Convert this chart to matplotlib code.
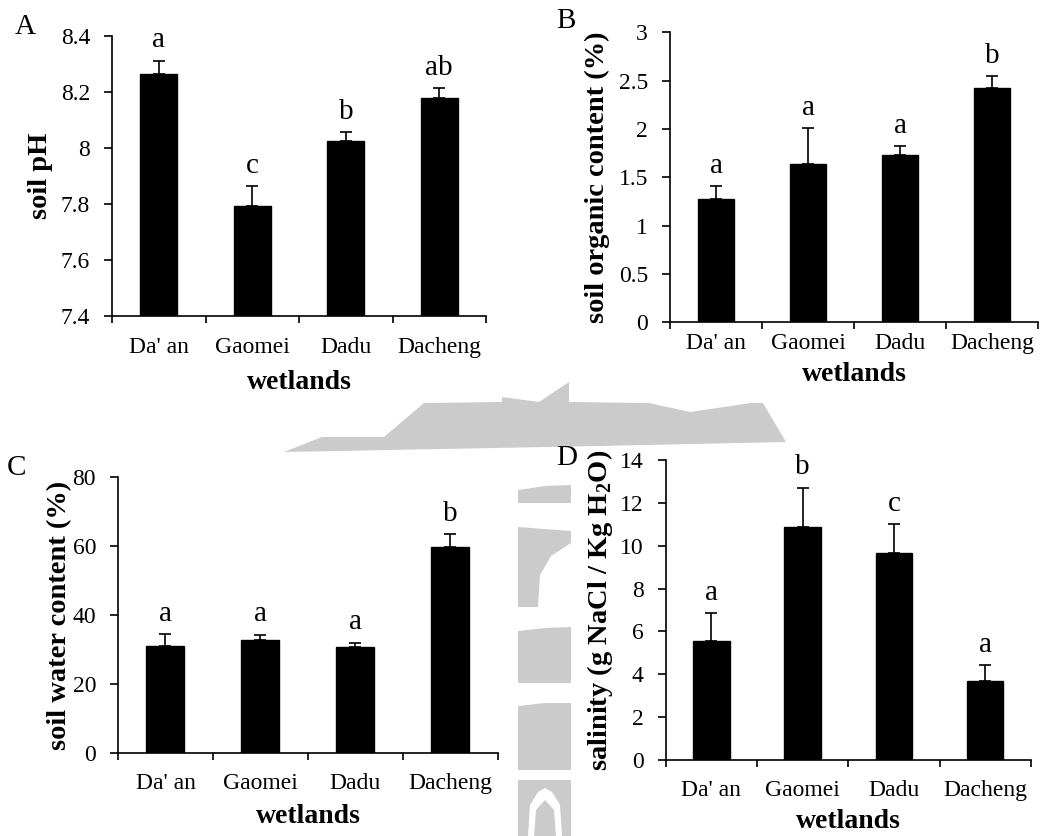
import numpy as np
import matplotlib.pyplot as plt
from matplotlib.patches import Polygon

plt.rcParams['font.family'] = ['Liberation Serif', 'DejaVu Serif']
plt.rcParams['mathtext.fontset'] = 'custom'
plt.rcParams['mathtext.rm'] = 'Liberation Serif'
plt.rcParams['mathtext.bf'] = 'Liberation Serif:bold'

wetlands = ["Da' an", "Gaomei", "Dadu", "Dacheng"]

ph_mean = [8.264, 7.792, 8.025, 8.180]
ph_err = [0.048, 0.073, 0.031, 0.034]
ph_letters = ["a", "c", "b", "ab"]

organic_mean = [1.28, 1.64, 1.73, 2.42]
organic_err = [0.13, 0.365, 0.09, 0.127]
organic_letters = ["a", "a", "a", "b"]

water_mean = [31.1, 32.9, 30.8, 59.6]
water_err = [3.4, 1.45, 1.2, 3.8]
water_letters = ["a", "a", "a", "b"]

salinity_mean = [5.55, 10.89, 9.66, 3.69]
salinity_err = [1.30, 1.82, 1.34, 0.74]
salinity_letters = ["a", "b", "c", "a"]

W, H = 1043, 836
fig = plt.figure(figsize=(W / 100, H / 100), dpi=100)


def px(points):
    # pixel coords (origin top-left) -> figure fraction
    return [(x / W, 1 - y / H) for x, y in points]


# grey logo in the background
grey = '#cbcbcb'
shapes = [
    [(284, 452), (322, 437), (384, 437), (424, 403), (502, 402), (502, 397),
     (539, 402), (569, 382), (569, 402), (649, 403), (690, 412), (751, 403),
     (763, 403), (786, 442), (600, 446)],
    [(518, 490), (545, 486), (571, 485), (571, 503), (518, 503)],
    [(518, 527), (571, 531), (571, 543), (551, 556), (540, 575), (538, 607), (518, 607)],
    [(518, 631), (545, 628), (571, 627), (571, 683), (518, 683)],
    [(518, 706), (545, 703), (571, 703), (571, 770), (518, 770)],
    [(518, 780), (571, 780), (571, 836), (518, 836)],
]
for s in shapes:
    fig.add_artist(Polygon(px(s), closed=True, facecolor=grey, edgecolor='none',
                           transform=fig.transFigure, zorder=0))
# white arch inside the lowest block
arch = [(528, 836), (530, 805), (538, 792), (545, 788), (552, 792), (560, 805), (562, 836),
        (556, 836), (554, 810), (545, 800), (536, 810), (534, 836)]
fig.add_artist(Polygon(px(arch), closed=True, facecolor='white', edgecolor='none',
                       transform=fig.transFigure, zorder=0))


def bar_panel(rect, means, errs, letters, ylim, yticks, yticklabels, ylabel,
              ylab_x, xlab_y, xpad):
    ax = fig.add_axes(rect)
    ax.patch.set_alpha(0)
    x = np.arange(len(wetlands))
    ax.bar(x, np.array(means) - ylim[0], bottom=ylim[0], width=0.4, color='black',
           edgecolor='black', zorder=2)
    ax.errorbar(x, means, yerr=[np.zeros(len(errs)), errs], fmt='none', ecolor='black',
                elinewidth=1.2, capsize=4, capthick=1.2, zorder=3)
    for xi, m, e, lab in zip(x, means, errs, letters):
        ax.annotate(lab, (xi, m + e), xytext=(0, 9.5), textcoords='offset points',
                    ha='center', va='baseline', fontsize=21)

    ax.set_xlim(-0.5, len(wetlands) - 0.5)
    ax.set_ylim(*ylim)
    ax.set_yticks(yticks)
    ax.set_yticklabels(yticklabels, fontsize=17)
    ax.set_xticks(x)
    ax.set_xticklabels(wetlands, fontsize=17)
    ax.set_xticks(np.arange(-0.5, len(wetlands)), minor=True)
    ax.tick_params(axis='x', which='major', length=0, pad=xpad)
    ax.tick_params(axis='x', which='minor', length=5, width=1.2, direction='out')
    ax.tick_params(axis='y', length=5.8, width=1.2, pad=10, direction='out')

    for side in ['top', 'right']:
        ax.spines[side].set_visible(False)
    for side in ['left', 'bottom']:
        ax.spines[side].set_linewidth(1.2)

    ax.set_ylabel(ylabel, fontsize=20.5, fontweight='bold')
    ax.yaxis.set_label_coords(ylab_x, 0.5)
    ax.set_xlabel('wetlands', fontsize=20, fontweight='bold')
    ax.xaxis.set_label_coords(0.5, xlab_y)
    return ax


bar_panel([0.1074, 0.622, 0.3586, 0.335], ph_mean, ph_err, ph_letters,
          (7.4, 8.4), [7.4, 7.6, 7.8, 8.0, 8.2, 8.4],
          ['7.4', '7.6', '7.8', '8', '8.2', '8.4'], 'soil pH', -0.158, -0.193, 14.8)

bar_panel([0.6424, 0.6145, 0.3528, 0.3469], organic_mean, organic_err, organic_letters,
          (0, 3), [0, 0.5, 1, 1.5, 2, 2.5, 3],
          ['0', '0.5', '1', '1.5', '2', '2.5', '3'], 'soil organic content (%)',
          -0.163, -0.137, 7.6)

bar_panel([0.1131, 0.0989, 0.3643, 0.331], water_mean, water_err, water_letters,
          (0, 80), [0, 20, 40, 60, 80], ['0', '20', '40', '60', '80'],
          'soil water content (%)', -0.121, -0.183, 14.1)

bar_panel([0.6383, 0.0909, 0.35, 0.3589], salinity_mean, salinity_err, salinity_letters,
          (0, 14), [0, 2, 4, 6, 8, 10, 12, 14],
          ['0', '2', '4', '6', '8', '10', '12', '14'],
          r'salinity (g NaCl / Kg H$_\mathbf{2}$O)', -0.139, -0.163, 14.1)

for lab, (x, y) in zip('ABCD', [(25, 27), (566, 21), (17, 468), (567, 458)]):
    fig.text(x / W, 1 - y / H, lab, ha='center', va='center', fontsize=21)

fig.savefig('out.png', dpi=100)
